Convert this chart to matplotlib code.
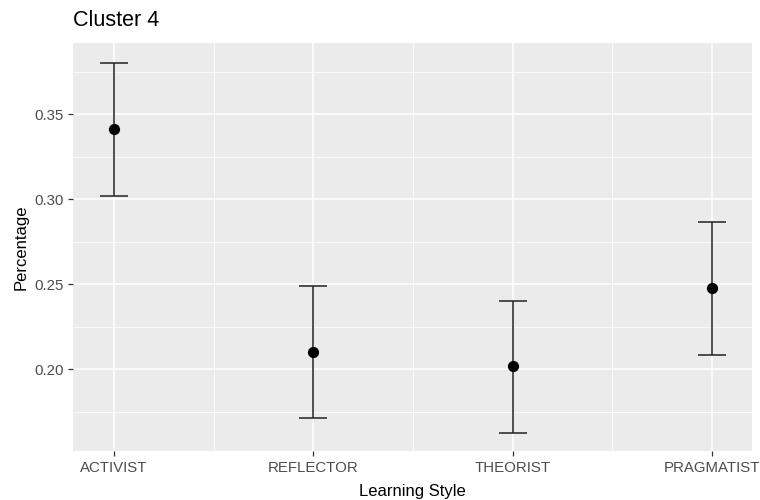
import matplotlib.pyplot as plt
import numpy as np

# per-style mean share with lower / upper interval bounds
styles = ['ACTIVIST', 'REFLECTOR', 'THEORIST', 'PRAGMATIST']
mean_pct = [0.3416, 0.2102, 0.2019, 0.2480]
lower_pct = [0.3019, 0.1710, 0.1622, 0.2084]
upper_pct = [0.3804, 0.2490, 0.2400, 0.2868]

y_ticks = [0.20, 0.25, 0.30, 0.35]
y_minor = [0.175, 0.225, 0.275, 0.325, 0.375]

plt.rcParams['font.family'] = ['Liberation Sans', 'DejaVu Sans']

fig = plt.figure(figsize=(7.6, 5), dpi=100)
ax = fig.add_axes([73 / 760, 49 / 500, 679 / 760, 408 / 500])
ax.set_facecolor('#EBEBEB')

x = np.arange(1, len(styles) + 1)
mean_pct = np.array(mean_pct)
yerr = [mean_pct - np.array(lower_pct), np.array(upper_pct) - mean_pct]

# ggplot-like grid: major lines at ticks, thinner minor lines between them
for v in y_ticks:
    ax.axhline(v, color='white', lw=1.1, zorder=0)
for v in y_minor:
    ax.axhline(v, color='white', lw=0.55, zorder=0)
for v in x:
    ax.axvline(v, color='white', lw=1.1, zorder=0)
for v in x[:-1] + 0.5:
    ax.axvline(v, color='white', lw=0.55, zorder=0)

ax.errorbar(x, mean_pct, yerr=yerr, fmt='none', ecolor='#222222',
            elinewidth=1.1, capsize=10, capthick=1.1, zorder=2)
ax.scatter(x, mean_pct, s=50, color='black', zorder=3)

ax.set_xlim(0.795, 4.2)
ax.set_ylim(0.1518, 0.392)
ax.set_xticks(x)
ax.set_xticklabels(styles)
ax.set_yticks(y_ticks)
ax.set_yticklabels(['%.2f' % v for v in y_ticks])
ax.tick_params(axis='both', length=3.5, width=0.9, color='#333333',
               labelcolor='#4D4D4D', labelsize=10.8, pad=3)
ax.tick_params(axis='x', pad=4)

for s in ax.spines.values():
    s.set_visible(False)

ax.set_xlabel('Learning Style', fontsize=12, color='black', labelpad=6)
ax.set_ylabel('Percentage', fontsize=12, color='black', labelpad=4)
fig.text(73 / 760, 1 - 21 / 500, 'Cluster 4', fontsize=15.5, color='black',
         ha='left', va='center')

fig.savefig('out.png', dpi=100)
